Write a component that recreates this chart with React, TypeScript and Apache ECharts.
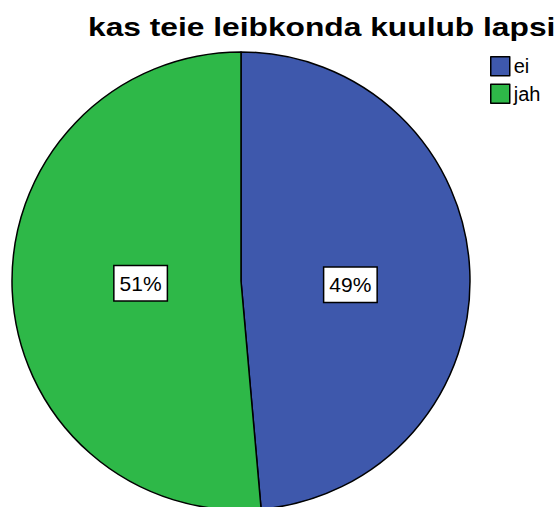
import React, { useEffect, useRef } from "react";
import * as echarts from "echarts";

const titleText = "kas teie leibkonda kuulub lapsi";
const categories = ["ei", "jah"];
const values = [48.6, 51.4];
const colors = ["#3E58AC", "#2EB848"];
const labelOffsets: [number, number][] = [[-8, 9], [17, -3]];

export default function App() {
  const ref = useRef<HTMLDivElement>(null);
  useEffect(() => {
    const chart = echarts.init(ref.current!, null, { renderer: "svg" });
    chart.setOption({
      animation: false,
      backgroundColor: "#ffffff",
      graphic: [
        {
          type: "text",
          x: 88,
          y: 27.5,
          scaleX: 1.27,
          style: {
            text: titleText,
            fontFamily: "Liberation Sans, Arial, sans-serif",
            fontWeight: "bold",
            fontSize: 25,
            fill: "#000",
            verticalAlign: "middle",
            align: "left",
          },
        },
      ],
      legend: {
        orient: "vertical",
        left: 490,
        top: 56,
        padding: 0,
        itemWidth: 19,
        itemHeight: 19,
        itemGap: 7,
        icon: "rect",
        textStyle: {
          fontFamily: "Liberation Sans, Arial, sans-serif",
          fontSize: 20,
          color: "#000",
          padding: [0, 0, 0, -1],
        },
        itemStyle: { borderColor: "#000", borderWidth: 1.5 },
        data: categories,
      },
      series: [
        {
          type: "pie",
          center: [241, 281],
          radius: 229,
          startAngle: 90,
          clockwise: true,
          silent: true,
          itemStyle: { borderColor: "#000", borderWidth: 1.5 },
          label: {
            show: true,
            position: "inside",
            formatter: (p: any) => `${Math.round(p.percent)}%`,
            fontFamily: "Liberation Sans, Arial, sans-serif",
            fontSize: 21,
            color: "#000",
            backgroundColor: "#fff",
            borderColor: "#000",
            borderWidth: 1.5,
            padding: [6, 5, 6, 5],
            lineHeight: 22,
          },
          labelLine: { show: false },
          data: categories.map((c, i) => ({
            name: c,
            value: values[i],
            itemStyle: { color: colors[i] },
            label: { offset: labelOffsets[i] },
          })),
        },
      ],
    });
    return () => chart.dispose();
  }, []);
  return (
    <div
      ref={ref}
      style={{ position: "absolute", left: 0, top: 0, width: 558, height: 507 }}
    />
  );
}
